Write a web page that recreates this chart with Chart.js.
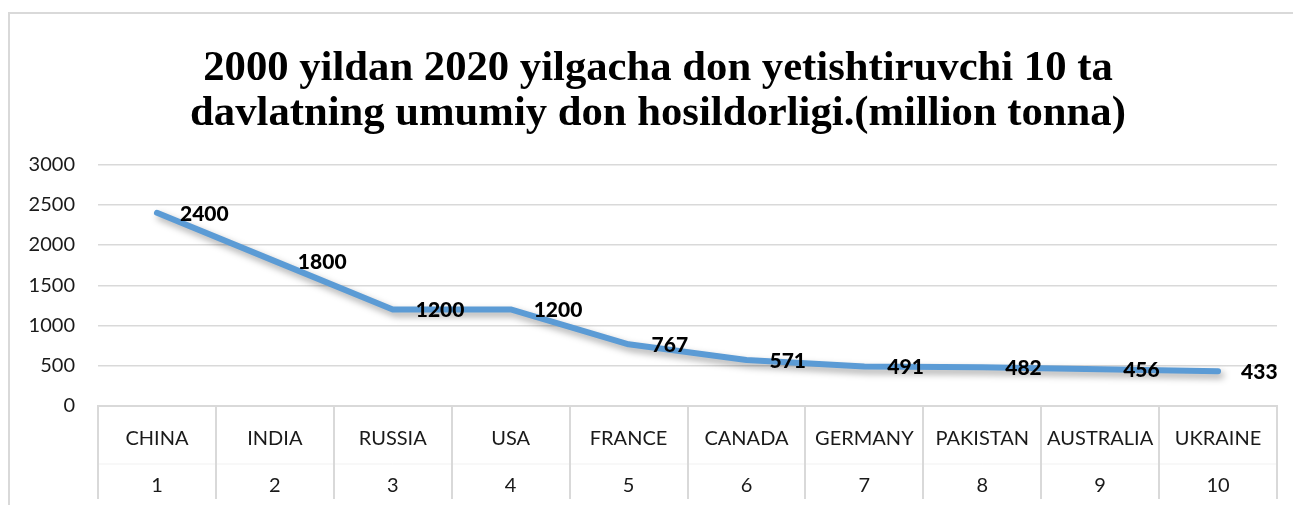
<!DOCTYPE html>
<html>
<head>
<meta charset="utf-8">
<script src="https://cdn.jsdelivr.net/npm/chart.js@4.4.0/dist/chart.umd.min.js"></script>
<style>
  html, body { margin: 0; padding: 0; background: #fff; overflow: hidden; width: 1293px; height: 505px; }
  #frame { position: absolute; left: 8px; top: 12px; width: 1300px; height: 520px; border-top: 2px solid #d9d9d9; border-left: 2px solid #d9d9d9; }
  canvas { display: block; }
</style>
</head>
<body>
<div id="frame"><canvas id="c" width="1296" height="500"></canvas></div>
<script>
const titleLines = ['2000 yildan 2020 yilgacha don yetishtiruvchi 10 ta', 'davlatning umumiy don hosildorligi.(million tonna)'];
const countries = ['CHINA', 'INDIA', 'RUSSIA', 'USA', 'FRANCE', 'CANADA', 'GERMANY', 'PAKISTAN', 'AUSTRALIA', 'UKRAINE'];
const ranks = ['1', '2', '3', '4', '5', '6', '7', '8', '9', '10'];
const values = [2400, 1800, 1200, 1200, 767, 571, 491, 482, 456, 433];
const yTicks = [0, 500, 1000, 1500, 2000, 2500, 3000];

const labels = countries.map((c, i) => [c, ranks[i]]);

const shadowPlugin = {
  id: 'lineShadow',
  beforeDatasetDraw(chart) {
    const ctx = chart.ctx;
    ctx.save();
    ctx.shadowColor = 'rgba(0,0,0,0.35)';
    ctx.shadowBlur = 7;
    ctx.shadowOffsetX = 3;
    ctx.shadowOffsetY = 4;
  },
  afterDatasetDraw(chart) {
    chart.ctx.restore();
  }
};

const valueLabels = {
  id: 'valueLabels',
  afterDatasetsDraw(chart) {
    const ctx = chart.ctx;
    const meta = chart.getDatasetMeta(0);
    ctx.save();
    ctx.font = '900 21px Lato';
    ctx.fillStyle = '#000';
    ctx.textAlign = 'left';
    ctx.textBaseline = 'middle';
    meta.data.forEach((pt, i) => {
      ctx.fillText(String(values[i]), pt.x + 23, pt.y + 1);
    });
    ctx.restore();
  }
};

const catSeparators = {
  id: 'catSeparators',
  afterDraw(chart) {
    const ctx = chart.ctx;
    const xs = chart.scales.x;
    const a = chart.chartArea;
    const w = (a.right - a.left) / countries.length;
    ctx.save();
    ctx.strokeStyle = '#f1f1f1';
    ctx.lineWidth = 1;
    ctx.beginPath();
    ctx.moveTo(a.left, a.bottom + 58);
    ctx.lineTo(a.right, a.bottom + 58);
    ctx.stroke();
    ctx.strokeStyle = '#d9d9d9';
    ctx.lineWidth = 2;
    for (let i = 0; i <= countries.length; i++) {
      const x = Math.round(xs.getPixelForValue(0) - w / 2 + i * w);
      ctx.beginPath();
      ctx.moveTo(x, a.bottom);
      ctx.lineTo(x, a.bottom + 93);
      ctx.stroke();
    }
    ctx.restore();
  }
};

new Chart(document.getElementById('c'), {
  type: 'line',
  data: {
    labels: labels,
    datasets: [{
      data: values,
      borderColor: '#5B9BD5',
      borderWidth: 6,
      borderCapStyle: 'round',
      borderJoinStyle: 'round',
      pointRadius: 0,
      tension: 0,
      fill: false
    }]
  },
  options: {
    responsive: false,
    animation: false,
    layout: { padding: 0 },
    plugins: {
      legend: { display: false },
      tooltip: { enabled: false },
      title: {
        display: true,
        text: titleLines,
        color: '#000',
        font: { family: 'Liberation Serif', size: 42.7, weight: 'bold', lineHeight: 1.06 },
        padding: { top: 32, bottom: 28 }
      }
    },
    scales: {
      x: {
        offset: true,
        grid: { display: false, drawTicks: false },
        border: { display: true, color: '#d9d9d9', width: 2 },
        ticks: {
          color: '#1a1a1a',
          font: { family: 'Lato', size: 20, lineHeight: 2.35 },
          padding: 9,
          maxRotation: 0,
          autoSkip: false
        },
        afterFit(s) { s.height = 108; }
      },
      y: {
        min: 0,
        max: 3000,
        afterBuildTicks(s) { s.ticks = yTicks.map(v => ({ value: v })); },
        grid: { color: '#d9d9d9', lineWidth: 1.5, drawTicks: false },
        border: { display: false },
        ticks: {
          color: '#1a1a1a',
          font: { family: 'Lato', size: 20 },
          padding: 23,
          callback: v => String(v)
        },
        afterFit(s) { s.width = 88; }
      },
      yRight: {
        position: 'right',
        display: true,
        grid: { display: false, drawTicks: false },
        border: { display: false },
        ticks: { display: false },
        afterFit(s) { s.width = 29; }
      }
    }
  },
  plugins: [shadowPlugin, valueLabels, catSeparators]
});
</script>
</body>
</html>
